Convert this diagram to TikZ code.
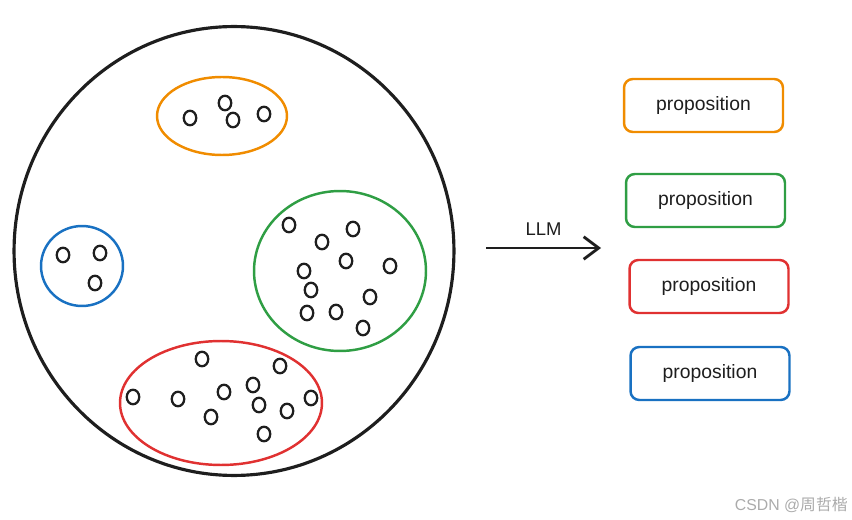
\documentclass[tikz,border=0pt]{standalone}
\usepackage{fontspec}
\setmainfont{Liberation Sans}
\newfontfamily\cjk{Noto Sans CJK SC}
\usetikzlibrary{arrows.meta,positioning,shapes.geometric}
\definecolor{inkblack}{RGB}{30,30,30}
\definecolor{exorange}{RGB}{240,140,0}
\definecolor{exgreen}{RGB}{47,158,68}
\definecolor{exred}{RGB}{224,49,49}
\definecolor{exblue}{RGB}{25,113,194}

\begin{document}
\begin{tikzpicture}[x=0.02cm,y=-0.02cm,
  cluster/.style={ellipse,draw=#1,line width=1.4pt,inner sep=0pt},
  doc/.style={ellipse,draw=inkblack,line width=1.3pt,inner sep=0pt,
              minimum width=0.25cm,minimum height=0.29cm},
  prop/.style={rounded corners=5pt,draw=#1,line width=1.4pt,fill=white,
               minimum width=3.18cm,minimum height=1.06cm,font=\fontsize{11}{13}\selectfont,
               text=inkblack},
  arrow/.style={-{Straight Barb[length=3mm,width=4.5mm]},line width=1.6pt,draw=inkblack}
]
\useasboundingbox (0,0) rectangle (852,520);
% corpus
\node[ellipse,draw=inkblack,line width=1.8pt,inner sep=0pt,
      minimum width=8.8cm,minimum height=8.98cm] (corpus) at (234,251) {};
% clusters
\node[cluster=exorange,minimum width=2.6cm,minimum height=1.56cm] (orange) at (222,116) {};
\node[cluster=exblue,minimum width=1.64cm,minimum height=1.6cm] (blue) at (82,266) {};
\node[cluster=exgreen,minimum width=3.44cm,minimum height=3.2cm] (green) at (340,271) {};
\node[cluster=exred,minimum width=4.04cm,minimum height=2.48cm] (red) at (221,403) {};
% documents
\foreach \p [count=\i] in {(190,118),(225,103),(233,120),(264,114)}
  \node[doc] (o\i) at \p {};
\foreach \p [count=\i] in {(63,255),(100,253),(95,283)}
  \node[doc] (b\i) at \p {};
\foreach \p [count=\i] in {(289,225),(322,242),(353,229),(346,261),(390,266),(304,271),
                           (311,290),(370,297),(307,313),(336,312),(363,328)}
  \node[doc] (g\i) at \p {};
\foreach \p [count=\i] in {(202,359),(280,366),(133,397),(178,399),(224,392),(253,385),
                           (311,398),(259,405),(287,411),(211,417),(264,434)}
  \node[doc] (r\i) at \p {};
% LLM step
\coordinate (llmin) at (486,248);
\coordinate (llmout) at (601,248);
\draw[arrow] (llmin) -- node[above=3pt,font=\fontsize{10.5}{12}\selectfont,text=inkblack] (llm) {LLM} (llmout);
% propositions
\node[prop=exorange] (p1) at (703.5,105.5) {proposition};
\node[prop=exgreen] (p2) at (705.5,200.5) {proposition};
\node[prop=exred] (p3) at (709,286.5) {proposition};
\node[prop=exblue] (p4) at (710,373.5) {proposition};
\node[anchor=east,text=black!33,font=\fontsize{9}{11}\selectfont,inner sep=0pt] (mark) at (848,505) {CSDN @{\cjk 周哲楷}};
\end{tikzpicture}
\end{document}
